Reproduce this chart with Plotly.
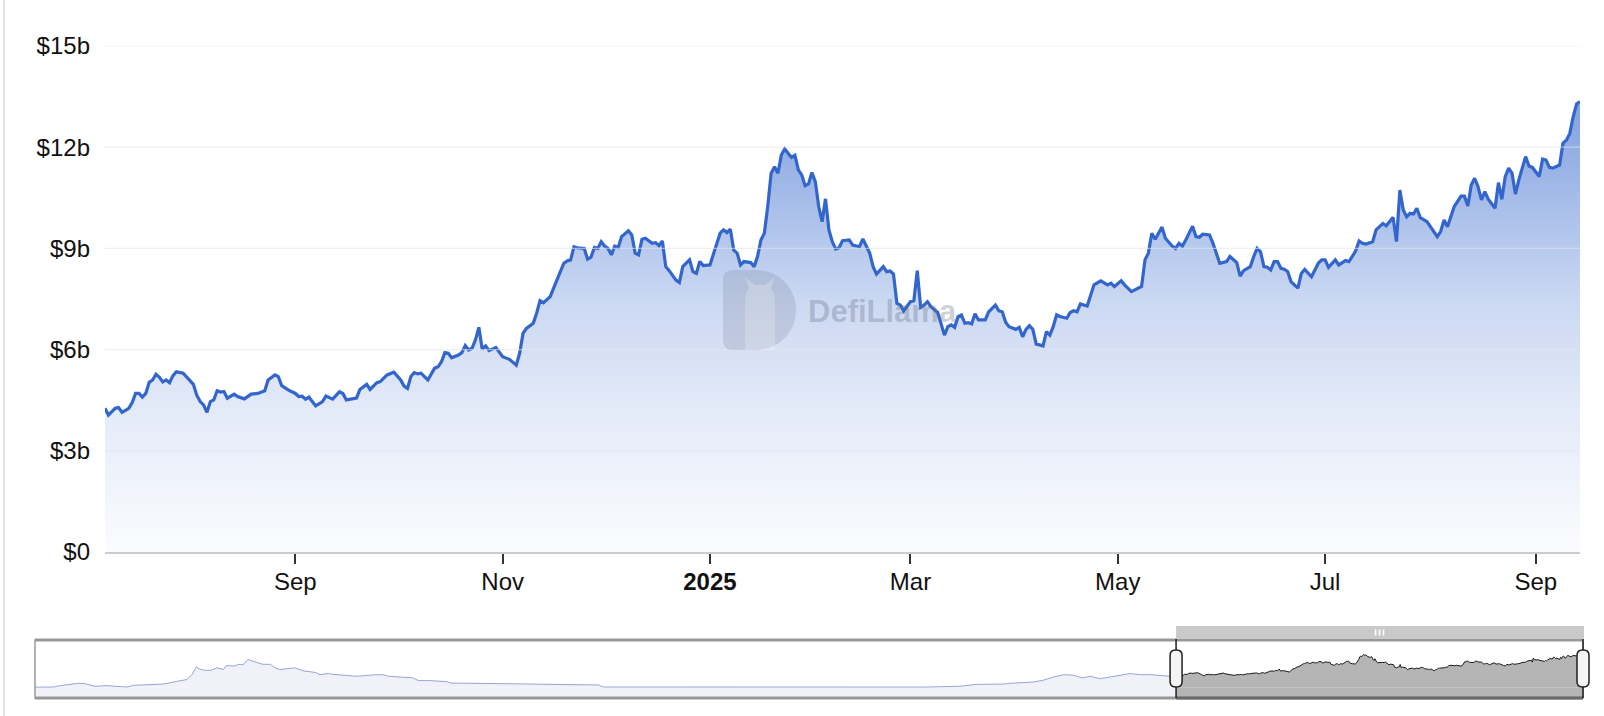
import pandas as pd
import plotly.graph_objects as go

# ---------------- data ----------------
start_date = "2024-07-07"
days = [0, 1, 3, 4, 5, 7, 8, 9, 10, 11, 12, 13, 14, 15, 16, 17, 18, 19, 20, 21, 23, 24, 26, 27, 28, 29, 30, 31, 32, 33,
        34, 35, 36, 38, 39, 41, 43, 45, 47, 48, 50, 51, 52, 54, 56, 57, 58, 59, 60, 62, 64, 65, 67, 69, 70, 71, 73, 74, 75, 77,
        78, 80, 81, 83, 85, 86, 87, 88, 89, 90, 91, 92, 93, 94, 95, 97, 98, 99, 100, 101, 102, 104, 105, 106, 107, 108, 109, 110, 111, 112,
        113, 115, 117, 119, 121, 122, 123, 124, 126, 127, 128, 129, 131, 132, 133, 134, 135, 136, 137, 138, 139, 141, 142, 143, 144, 145, 146, 147, 148, 149,
        150, 151, 152, 154, 155, 156, 157, 158, 159, 161, 162, 163, 164, 165, 166, 168, 169, 170, 172, 173, 174, 175, 176, 178, 179, 181, 182, 183, 184, 185,
        186, 187, 188, 190, 191, 192, 193, 194, 195, 196, 197, 198, 199, 200, 201, 202, 203, 204, 205, 206, 207, 208, 209, 210, 211, 212, 213, 214, 215, 216,
        217, 218, 219, 220, 222, 223, 224, 225, 226, 227, 229, 230, 231, 232, 233, 234, 235, 237, 238, 239, 240, 241, 242, 243, 245, 246, 247, 248, 249, 250,
        251, 252, 253, 254, 255, 256, 257, 259, 260, 262, 263, 264, 265, 266, 268, 269, 270, 271, 272, 273, 274, 275, 276, 277, 278, 279, 280, 281, 283, 284,
        285, 286, 287, 289, 290, 291, 293, 295, 296, 297, 299, 300, 302, 303, 305, 306, 307, 308, 309, 311, 312, 314, 315, 316, 317, 318, 320, 321, 322, 323,
        325, 326, 327, 328, 330, 331, 333, 334, 335, 337, 338, 339, 340, 341, 342, 343, 344, 345, 346, 347, 348, 349, 351, 352, 353, 355, 357, 358, 359, 360,
        362, 363, 365, 366, 367, 368, 369, 370, 371, 372, 373, 374, 376, 377, 379, 380, 381, 382, 383, 384, 385, 386, 387, 389, 390, 392, 393, 394, 395, 396,
        397, 399, 400, 401, 402, 403, 404, 405, 406, 407, 409, 410, 411, 412, 413, 414, 415, 416, 418, 419, 420, 422, 423, 424, 425, 426, 428, 429, 430, 431,
        432, 433, 434]
tvl = [4.26, 4.06, 4.26, 4.28, 4.14, 4.26, 4.43, 4.70, 4.70, 4.59, 4.70, 5.03, 5.10, 5.27, 5.18, 5.04, 5.10, 5.02, 5.23, 5.34, 5.30, 5.18, 4.97, 4.65, 4.46, 4.36, 4.14, 4.46, 4.51, 4.78,
       4.74, 4.76, 4.56, 4.68, 4.61, 4.54, 4.68, 4.70, 4.78, 5.10, 5.25, 5.20, 4.93, 4.80, 4.70, 4.61, 4.62, 4.53, 4.59, 4.33, 4.46, 4.62, 4.53, 4.75, 4.70, 4.51, 4.53, 4.56, 4.82, 4.97,
       4.82, 5.02, 5.05, 5.25, 5.33, 5.22, 5.10, 4.92, 4.85, 5.20, 5.32, 5.28, 5.30, 5.20, 5.10, 5.45, 5.49, 5.64, 5.91, 5.89, 5.76, 5.84, 5.91, 6.12, 5.99, 6.04, 6.29, 6.66, 6.01, 6.11,
       5.97, 6.06, 5.79, 5.71, 5.54, 5.89, 6.48, 6.63, 6.78, 7.08, 7.45, 7.39, 7.57, 7.82, 8.06, 8.31, 8.56, 8.63, 8.66, 9.05, 9.02, 9.00, 8.68, 8.74, 9.03, 9.00, 9.20, 9.07, 9.00, 8.81,
       9.07, 9.03, 9.35, 9.52, 9.40, 8.86, 8.81, 9.27, 9.30, 9.15, 9.17, 9.08, 9.22, 8.46, 8.34, 8.06, 7.99, 8.46, 8.66, 8.31, 8.26, 8.61, 8.49, 8.51, 8.81, 9.45, 9.55, 9.47, 9.57, 8.95,
       8.86, 8.51, 8.61, 8.58, 8.46, 8.76, 9.25, 9.45, 10.24, 11.23, 11.42, 11.23, 11.77, 11.95, 11.82, 11.70, 11.76, 11.33, 11.18, 10.86, 10.91, 11.25, 10.98, 10.24, 9.79, 10.47, 9.55, 9.20, 8.98, 9.02,
       9.23, 9.25, 9.25, 9.10, 9.05, 9.28, 9.05, 8.86, 8.46, 8.24, 8.46, 8.31, 8.33, 8.24, 7.37, 7.32, 7.15, 7.42, 7.45, 8.34, 7.25, 7.32, 7.42, 7.27, 7.10, 6.73, 6.43, 6.68, 6.73, 6.66,
       6.98, 7.03, 6.78, 6.80, 6.76, 7.06, 6.88, 6.88, 7.12, 7.32, 7.15, 7.12, 6.81, 6.68, 6.60, 6.66, 6.38, 6.60, 6.71, 6.60, 6.16, 6.14, 6.11, 6.53, 6.43, 6.68, 7.03, 6.98, 6.93, 7.10,
       7.15, 7.12, 7.35, 7.29, 7.62, 7.92, 8.04, 7.92, 7.97, 7.87, 8.04, 7.92, 7.72, 7.77, 7.87, 8.66, 8.86, 9.45, 9.27, 9.63, 9.30, 9.07, 9.00, 9.15, 9.07, 9.25, 9.66, 9.35, 9.33, 9.42,
       9.40, 9.15, 8.86, 8.56, 8.61, 8.76, 8.58, 8.18, 8.34, 8.46, 8.76, 9.00, 8.90, 8.46, 8.44, 8.36, 8.61, 8.61, 8.41, 8.38, 8.31, 8.01, 7.82, 8.26, 8.38, 8.16, 8.56, 8.66, 8.66, 8.44,
       8.66, 8.51, 8.64, 8.61, 8.76, 8.93, 9.22, 9.15, 9.13, 9.17, 9.20, 9.55, 9.74, 9.67, 9.92, 9.20, 10.73, 10.14, 9.94, 10.04, 10.02, 10.19, 9.91, 9.79, 9.63, 9.35, 9.50, 9.84, 9.64, 9.94,
       10.24, 10.55, 10.55, 10.26, 10.88, 11.08, 10.83, 10.44, 10.68, 10.46, 10.19, 10.95, 10.46, 11.13, 11.38, 11.23, 10.61, 11.03, 11.72, 11.44, 11.40, 11.13, 11.65, 11.62, 11.40, 11.38, 11.47, 12.12, 12.21, 12.41,
       12.91, 13.28, 13.35]

# longer history shown in the navigator (before the zoomed window)
hist_start = "2021-03-08"
hist_days = [0, 20, 27, 37, 46, 53, 64, 76, 98, 105, 137, 151, 162, 167, 172, 176, 181, 188, 194, 201, 204, 213, 217, 222, 227,
             232, 238, 243, 251, 256, 261, 268, 277, 286, 299, 304, 313, 318, 329, 343, 361, 371, 377, 393, 403, 409, 421, 439, 444,
             467, 492, 528, 552, 576, 601, 606, 631, 702, 809, 915, 951, 986, 1004, 1033, 1040, 1065, 1075, 1086, 1093, 1098, 1107,
             1117, 1125, 1136, 1146, 1157, 1168, 1178, 1189, 1210]
hist_tvl = [0.0, 0.04, 0.55, 0.9, 1.4, 1.3, 0.3, 0.55, 0.04, 0.66, 1.15, 2.1, 2.8, 4.4, 7.4, 6.6, 6.2, 6.2, 7.1, 6.5, 7.9, 7.8, 8.4, 8.2, 10.2,
            9.6, 8.9, 8.4, 8.4, 7.1, 6.5, 6.7, 7.1, 6.0, 5.4, 4.6, 5.0, 4.7, 4.5, 4.0, 4.5, 4.6, 4.0, 3.7, 3.4, 2.4, 2.4, 2.0, 1.5,
            1.4, 1.4, 1.15, 1.0, 0.8, 0.8, 0.05, 0.05, 0.0, 0.0, 0.0, 0.04, 0.3, 1.0, 1.15, 1.4, 1.9, 2.5, 3.7, 4.1, 4.6, 4.4,
            3.4, 4.0, 3.1, 3.7, 4.4, 5.0, 4.6, 4.6, 4.0]

y_ticks = [0, 3, 6, 9, 12, 15]
y_tick_labels = ["$0", "$3b", "$6b", "$9b", "$12b", "$15b"]
x_ticks = ["2024-09-01", "2024-11-01", "2025-01-01", "2025-03-01", "2025-05-01", "2025-07-01", "2025-09-01"]
x_tick_labels = ["Sep", "Nov", "<b>2025</b>", "Mar", "May", "Jul", "Sep"]

# ---------------- layout constants ----------------
W, H = 1604, 716
PLOT_L, PLOT_R, PLOT_T, PLOT_B = 105, 1580, 46, 552
NAV_L, NAV_R, NAV_T, NAV_B = 35, 1583, 640, 698
LINE = "#3366cc"
FONT = "Liberation Sans, Arial, Helvetica, sans-serif"
FS = 24


def fx(p):
    return p / W


def fy(p):
    return 1 - p / H


dates = pd.Timestamp(start_date) + pd.to_timedelta(days, unit="D")
hist_dates = pd.Timestamp(hist_start) + pd.to_timedelta(hist_days, unit="D")
d0 = dates[0].strftime("%Y-%m-%d")
d1 = dates[-1].strftime("%Y-%m-%d")
h0 = hist_dates[0].strftime("%Y-%m-%d")


def nav_paper(ts):
    """paper x of a date on the navigator axis (derived from the data range)"""
    span = (dates[-1] - hist_dates[0]).total_seconds()
    frac = (ts - hist_dates[0]).total_seconds() / span
    return fx(NAV_L + frac * (NAV_R - NAV_L))


all_vals = hist_tvl + tvl
nmin, nmax = min(all_vals), max(all_vals)
pad = 0.3 * (nmax - nmin)
nav_floor, nav_ceil = nmin - pad, nmax + pad

fig = go.Figure()

# main area
fig.add_trace(go.Scatter(
    x=dates, y=tvl, mode="lines", xaxis="x", yaxis="y",
    line=dict(color=LINE, width=3.2),
    fill="tozeroy",
    fillgradient=dict(
        type="vertical", start=0, stop=max(tvl),
        colorscale=[[0.0, "rgba(51,102,204,0.02)"], [0.3, "rgba(51,102,204,0.13)"],
                    [0.55, "rgba(51,102,204,0.25)"], [0.8, "rgba(51,102,204,0.45)"],
                    [1.0, "rgba(51,102,204,0.62)"]]),
    hoverinfo="skip", showlegend=False))

# navigator: history (unselected) and selected window
fig.add_trace(go.Scatter(
    x=list(hist_dates) + [dates[0]], y=hist_tvl + [tvl[0]], mode="lines",
    xaxis="x2", yaxis="y2", line=dict(color="#97a5d8", width=1),
    fill="tozeroy", fillcolor="#f1f2f9", hoverinfo="skip", showlegend=False))
fig.add_trace(go.Scatter(
    x=dates, y=tvl, mode="lines", xaxis="x2", yaxis="y2",
    line=dict(color="#1a1a1a", width=1),
    fill="tozeroy", fillcolor="#b5b5b5", hoverinfo="skip", showlegend=False))

shapes = []
# gridlines drawn above the fill
for v in y_ticks[1:]:
    shapes.append(dict(type="line", xref="paper", yref="y", x0=fx(PLOT_L), x1=fx(PLOT_R), y0=v, y1=v,
                       line=dict(color="rgba(225,228,235,0.6)", width=1.2), layer="above"))
# left page border
shapes.append(dict(type="line", xref="paper", yref="paper", x0=fx(4), x1=fx(4), y0=0, y1=1,
                   line=dict(color="#e2e2e2", width=2)))
# navigator fills below zero level
shapes.append(dict(type="rect", xref="x2", yref="y2", x0=h0, x1=d0, y0=nav_floor, y1=0,
                   fillcolor="#f1f2f9", line=dict(width=0), layer="below"))
shapes.append(dict(type="rect", xref="x2", yref="y2", x0=d0, x1=d1, y0=nav_floor, y1=0,
                   fillcolor="#b5b5b5", line=dict(width=0), layer="below"))
# navigator frame
shapes.append(dict(type="rect", xref="paper", yref="paper", x0=fx(NAV_L), x1=fx(NAV_R), y0=fy(NAV_B), y1=fy(NAV_T),
                   line=dict(color="#9a9a9a", width=1.5), fillcolor="rgba(0,0,0,0)", layer="above"))
for yy in (NAV_T, NAV_B):
    shapes.append(dict(type="line", xref="paper", yref="paper", x0=fx(NAV_L), x1=fx(NAV_R), y0=fy(yy), y1=fy(yy),
                       line=dict(color="#979797", width=3), layer="above"))
s0, s1 = nav_paper(dates[0]), nav_paper(dates[-1])
smid = (s0 + s1) / 2
shapes.append(dict(type="line", xref="paper", yref="paper", x0=s0, x1=s1, y0=fy(NAV_B), y1=fy(NAV_B),
                   line=dict(color="#6a6a6a", width=3), layer="above"))
# move handle bar
shapes.append(dict(type="rect", xref="paper", yref="paper", x0=s0, x1=s1 + fx(1), y0=fy(638.5), y1=fy(626),
                   fillcolor="#c9c9c9", line=dict(width=0), layer="above"))
for off in (-4, 0, 4):
    shapes.append(dict(type="line", xref="paper", yref="paper", x0=smid + fx(off), x1=smid + fx(off),
                       y0=fy(635.5), y1=fy(629.5),
                       line=dict(color="white", width=1.6), layer="above"))
# selection edges and handles
handle = ("M -6,-13 L -6,13 Q -6,18.5 -0.5,18.5 L 0.5,18.5 Q 6,18.5 6,13 L 6,-13 "
          "Q 6,-18.5 0.5,-18.5 L -0.5,-18.5 Q -6,-18.5 -6,-13 Z")
for s in (s0, s1):
    shapes.append(dict(type="line", xref="paper", yref="paper", x0=s, x1=s, y0=fy(NAV_B), y1=fy(NAV_T - 1),
                       line=dict(color="#1f1f1f", width=1.5), layer="above"))
    shapes.append(dict(type="path", xref="paper", yref="paper", xsizemode="pixel", ysizemode="pixel",
                       xanchor=s, yanchor=fy(668.5), path=handle,
                       fillcolor="#f4f4f4", line=dict(color="#1f1f1f", width=1.5), layer="above"))


# watermark (DefiLlama logo)
def P(x, y):
    return f"{fx(x):.5f},{fy(y):.5f}"


dpath = (f"M {P(733, 270)} L {P(755, 270)} C {P(779, 270)} {P(796, 288)} {P(796, 310)} "
         f"C {P(796, 332)} {P(779, 350)} {P(755, 350)} L {P(733, 350)} Q {P(723, 350)} {P(723, 340)} "
         f"L {P(723, 280)} Q {P(723, 270)} {P(733, 270)} Z")
shapes.append(dict(type="path", xref="paper", yref="paper", path=dpath,
                   fillcolor="rgba(105,115,135,0.20)", line=dict(width=0), layer="above"))
llama = (f"M {P(745, 350)} L {P(745, 302)} Q {P(745, 292)} {P(749, 289)} L {P(745, 277)} L {P(755, 285)} "
         f"L {P(765, 285)} L {P(775, 277)} L {P(771, 289)} Q {P(775, 292)} {P(775, 302)} L {P(775, 350)} Z")
shapes.append(dict(type="path", xref="paper", yref="paper", path=llama,
                   fillcolor="rgba(255,255,255,0.22)", line=dict(width=0), layer="above"))

annotations = [dict(text="<b>DefiLlama</b>", xref="paper", yref="paper", x=fx(806), y=fy(311),
                    xanchor="left", yanchor="middle", showarrow=False,
                    font=dict(family=FONT, size=31, color="rgba(100,110,130,0.33)"))]

fig.update_layout(
    width=W, height=H, margin=dict(l=0, r=0, t=0, b=0, autoexpand=False),
    paper_bgcolor="white", plot_bgcolor="white", showlegend=False,
    font=dict(family=FONT, size=FS, color="#111"),
    shapes=shapes, annotations=annotations,
    xaxis=dict(domain=[fx(PLOT_L), fx(PLOT_R)], range=[d0, d1], type="date",
               tickmode="array", tickvals=x_ticks, ticktext=x_tick_labels,
               ticks="outside", ticklen=10, tickwidth=1.5, tickcolor="#333",
               showline=True, linecolor="#cccccc", linewidth=1.5,
               showgrid=False, zeroline=False, anchor="y", automargin=False,
               ticklabelstandoff=-3,
               tickfont=dict(family=FONT, size=FS, color="#111"), fixedrange=True),
    yaxis=dict(domain=[fy(PLOT_B), fy(PLOT_T)], range=[0, 15],
               tickmode="array", tickvals=y_ticks, ticktext=y_tick_labels,
               ticks="", showline=False, showgrid=False, zeroline=False, anchor="x",
               ticklabelstandoff=14, automargin=False,
               tickfont=dict(family=FONT, size=FS, color="#111"), fixedrange=True),
    xaxis2=dict(domain=[fx(NAV_L), fx(NAV_R)], range=[h0, d1], type="date", visible=False,
                anchor="y2", fixedrange=True, automargin=False),
    yaxis2=dict(domain=[fy(NAV_B), fy(NAV_T)], range=[nav_floor, nav_ceil], visible=False,
                anchor="x2", fixedrange=True, automargin=False),
)

fig.write_html("out.html", config={"displayModeBar": False},
               post_script="document.body.style.margin='0px';")
